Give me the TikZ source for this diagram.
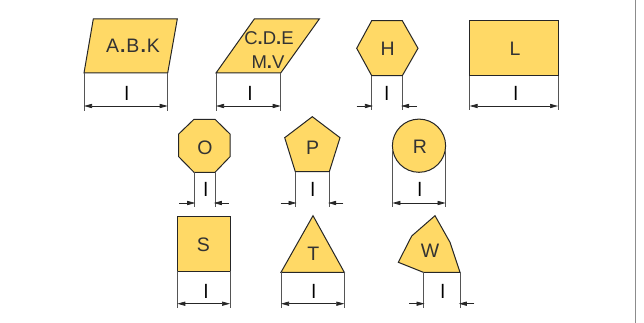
\documentclass[tikz,border=0pt]{standalone}
\usepackage{fontspec}
\setmainfont{Liberation Sans}
\usetikzlibrary{arrows.meta}
\definecolor{fillY}{HTML}{FFD966}
\definecolor{dimG}{HTML}{555555}
\newcommand{\dt}{{\bfseries .}}
\newcommand{\dtw}{\kern1pt{\bfseries .}\kern1pt}
\tikzset{
  x=1pt,y=-1pt,
  insert/.style={draw=black!85,fill=fillY,line width=1pt,line join=miter},
  ext/.style={draw=dimG,line width=0.8pt},
  tipA/.tip={Triangle[length=8pt,width=4.2pt]},
  dimin/.style={draw=black!85,line width=0.7pt,tipA-tipA},
  dimout/.style={draw=black!85,line width=0.7pt,-tipA,shorten >=-1.2pt},
  lab/.style={font=\fontsize{19.5}{22}\selectfont,text=black!80,inner sep=0pt},
  labs/.style={font=\fontsize{18.5}{22}\selectfont,text=black!80,inner sep=0pt},
  dimlab/.style={font=\fontsize{19.5}{22}\selectfont,text=black,inner sep=0pt}
}
\begin{document}
\begin{tikzpicture}
\useasboundingbox (0,0) rectangle (644,323);
\fill[white] (0,0) rectangle (644,323);
\draw[draw=black!45,line width=1pt] (635.5,0) -- (635.5,323);

% ---- A.B.K
\draw[insert] (84,73) -- (93.3,19) -- (177.3,19) -- (167.7,73) -- cycle;
\node[lab] (abk) at (133,46) {A\dtw B\dtw K};
\coordinate (a1) at (84,73); \coordinate (a2) at (84,111);
\coordinate (a3) at (167.7,73); \coordinate (a4) at (167.7,111);
\coordinate (aL) at (84,106); \coordinate (aR) at (167.7,106);
\draw[ext] (a1) -- (a2); \draw[ext] (a3) -- (a4);
\draw[dimin] (aL) -- (aR);
\node[dimlab] (al) at (126.7,93.3) {l};

% ---- C.D.E M.V
\draw[insert] (216,73) -- (254.3,19) -- (319.3,19) -- (280.7,73) -- cycle;
\node[labs] (cde) at (269,38) {C\dt D\dt E};
\node[labs] (mv) at (268,61.7) {M\dt V};
\coordinate (b1) at (216,73); \coordinate (b2) at (216,111);
\coordinate (b3) at (280.7,73); \coordinate (b4) at (280.7,111);
\coordinate (bL) at (216,106); \coordinate (bR) at (280.7,106);
\draw[ext] (b1) -- (b2); \draw[ext] (b3) -- (b4);
\draw[dimin] (bL) -- (bR);
\node[dimlab] (bl) at (250,93.3) {l};

% ---- H
\draw[insert] (356.7,48.3) -- (371.7,20.7) -- (402.3,20.7) -- (418,48.3) -- (402.3,75.7) -- (371.7,75.7) -- cycle;
\node[lab] (h) at (387.7,48.3) {H};
\coordinate (c1) at (371.7,76); \coordinate (c2) at (371.7,110);
\coordinate (c3) at (402.3,76); \coordinate (c4) at (402.3,110);
\coordinate (cL) at (371.7,106); \coordinate (cR) at (402.3,106);
\coordinate (cLo) at (356.7,106); \coordinate (cRo) at (417,106);
\draw[ext] (c1) -- (c2); \draw[ext] (c3) -- (c4);
\draw[dimout] (cLo) -- (cL); \draw[dimout] (cRo) -- (cR);
\node[dimlab] (cl) at (386.7,93.3) {l};

% ---- L
\draw[insert] (469.7,20.3) rectangle (558,75.7);
\node[lab] (l) at (515,49) {L};
\coordinate (d1) at (469.7,76); \coordinate (d2) at (469.7,110);
\coordinate (d3) at (558,76); \coordinate (d4) at (558,110);
\coordinate (dL) at (469.7,106); \coordinate (dR) at (558,106);
\draw[ext] (d1) -- (d2); \draw[ext] (d3) -- (d4);
\draw[dimin] (dL) -- (dR);
\node[dimlab] (dl) at (515.7,93.3) {l};

% ---- O
\draw[insert] (194,119.3) -- (215,119.3) -- (230,134) -- (230,156.7) -- (215,172.3) -- (194,172.3) -- (178.7,156.7) -- (178.7,134) -- cycle;
\node[lab] (o) at (205,147.3) {O};
\coordinate (e1) at (194,172); \coordinate (e2) at (194,207);
\coordinate (e3) at (215,172); \coordinate (e4) at (215,207);
\coordinate (eL) at (194,203); \coordinate (eR) at (215,203);
\coordinate (eLo) at (179.3,203); \coordinate (eRo) at (228.5,203);
\draw[ext] (e1) -- (e2); \draw[ext] (e3) -- (e4);
\draw[dimout] (eLo) -- (eL); \draw[dimout] (eRo) -- (eR);
\node[dimlab] (el) at (205.7,189.3) {l};

% ---- P
\draw[insert] (312.3,116.7) -- (340,137.7) -- (329.3,171.7) -- (295.3,171.7) -- (284.7,137.7) -- cycle;
\node[lab] (p) at (312.7,147.7) {P};
\coordinate (f1) at (295.3,172); \coordinate (f2) at (295.3,207);
\coordinate (f3) at (329.3,172); \coordinate (f4) at (329.3,207);
\coordinate (fL) at (295.3,203); \coordinate (fR) at (329.3,203);
\coordinate (fLo) at (280.7,203); \coordinate (fRo) at (343.3,203);
\draw[ext] (f1) -- (f2); \draw[ext] (f3) -- (f4);
\draw[dimout] (fLo) -- (fL); \draw[dimout] (fRo) -- (fR);
\node[dimlab] (fl) at (312.7,189.3) {l};

% ---- R
\draw[insert] (419,145.7) circle[radius=26.6];
\node[lab] (r) at (420,146.7) {R};
\coordinate (g1) at (392.4,150); \coordinate (g2) at (392.4,207);
\coordinate (g3) at (445.6,150); \coordinate (g4) at (445.6,207);
\coordinate (gL) at (392.4,203); \coordinate (gR) at (445.6,203);
\draw[ext] (g1) -- (g2); \draw[ext] (g3) -- (g4);
\draw[dimin] (gL) -- (gR);
\node[dimlab] (gl) at (419.7,189.3) {l};

% ---- S
\draw[insert] (177.3,216) rectangle (230,271);
\node[lab] (s) at (203.3,244.3) {S};
\coordinate (h1) at (177.3,271); \coordinate (h2) at (177.3,308);
\coordinate (h3) at (230,271); \coordinate (h4) at (230,308);
\coordinate (hL) at (177.3,303.7); \coordinate (hR) at (230,303.7);
\draw[ext] (h1) -- (h2); \draw[ext] (h3) -- (h4);
\draw[dimin] (hL) -- (hR);
\node[dimlab] (hl) at (206,291) {l};

% ---- T
\draw[insert] (313,215.7) -- (344.3,272.3) -- (281,272.3) -- cycle;
\node[lab] (t) at (313.3,253.3) {T};
\coordinate (i1) at (281,272); \coordinate (i2) at (281,308);
\coordinate (i3) at (344.3,272); \coordinate (i4) at (344.3,308);
\coordinate (iL) at (281,303.7); \coordinate (iR) at (344.3,303.7);
\draw[ext] (i1) -- (i2); \draw[ext] (i3) -- (i4);
\draw[dimin] (iL) -- (iR);
\node[dimlab] (il) at (313.7,291) {l};

% ---- W
\draw[insert] (435,215.7) -- (450,242.3) -- (460,272.3) -- (423.3,272.3) -- (398.3,262.3) -- (411.7,236) -- cycle;
\node[lab] (w) at (430,250.7) {W};
\coordinate (j1) at (423.3,272); \coordinate (j2) at (423.3,308);
\coordinate (j3) at (460,272); \coordinate (j4) at (460,308);
\coordinate (jL) at (423.3,303.7); \coordinate (jR) at (460,303.7);
\coordinate (jLo) at (409,303.7); \coordinate (jRo) at (474.3,303.7);
\draw[ext] (j1) -- (j2); \draw[ext] (j3) -- (j4);
\draw[dimout] (jLo) -- (jL); \draw[dimout] (jRo) -- (jR);
\node[dimlab] (jl) at (442.7,291) {l};
\end{tikzpicture}
\end{document}
